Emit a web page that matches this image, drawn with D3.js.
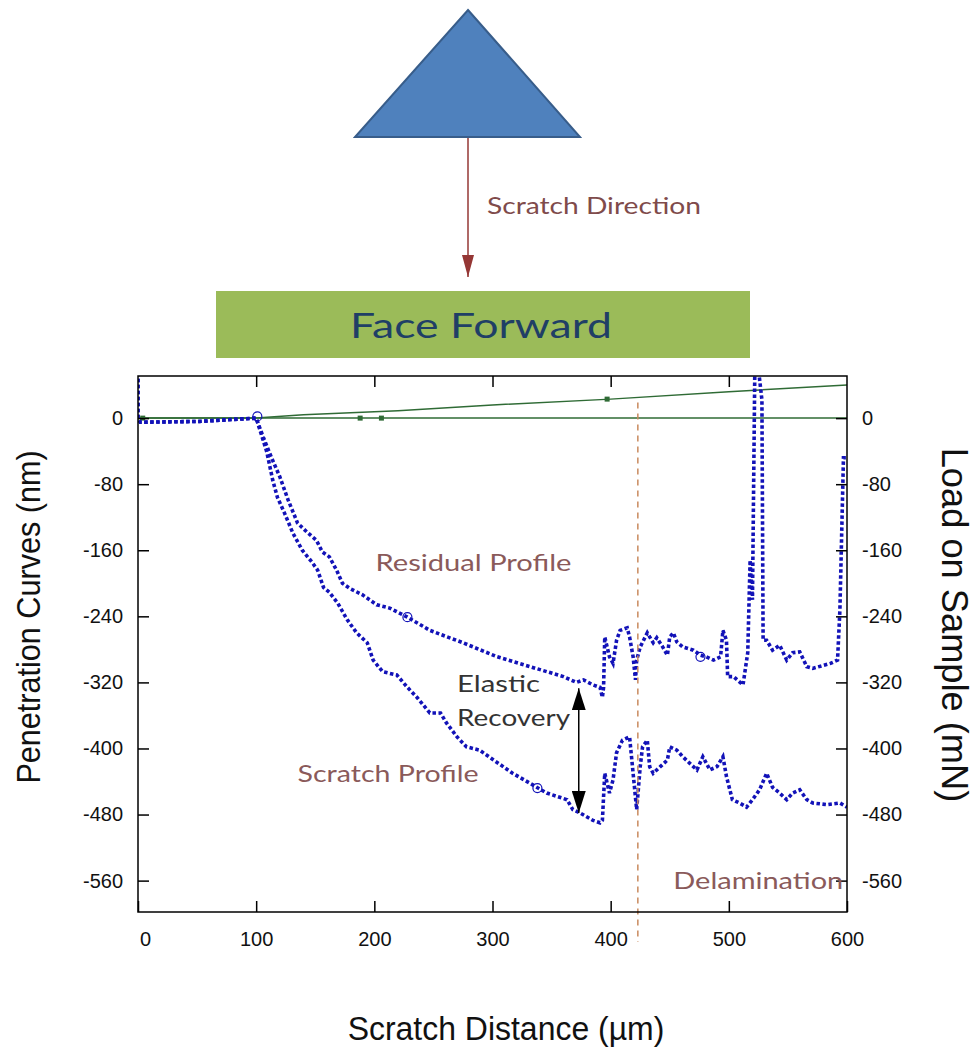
<!DOCTYPE html>
<html>
<head>
<meta charset="utf-8">
<script src="https://cdn.jsdelivr.net/npm/d3@7"></script>
<style>
  body { margin: 0; background: #fff; }
  svg { display: block; }
</style>
</head>
<body>
<div id="chart"></div>
<script>
// Scratch profile (deeper curve), distance in um, depth in nm
const scratchDist = [0, 0, 2, 52, 100, 104, 109, 114, 118, 124, 131, 139, 147, 152, 157, 162, 169, 177, 185, 194,
  199, 207, 219, 228, 236, 247, 256, 261, 270, 278, 289, 317, 346, 363, 368, 374, 385, 391, 393, 395,
  399, 402, 405, 410, 416, 419, 422, 425, 427, 431, 433, 436, 442, 448, 450, 456, 461, 467, 473, 478,
  484, 490, 495, 498, 503, 509, 515, 520, 526, 532, 537, 543, 549, 554, 560, 566, 571, 583, 594, 600];
const scratchDepth = [55, 0, -5, -4, 0, -18, -41, -75, -96, -115, -139, -160, -174, -184, -205, -211, -224, -244, -260, -272,
  -293, -307, -311, -326, -338, -357, -357, -369, -386, -398, -402, -430, -454, -462, -474, -478, -487, -490, -487, -430,
  -454, -438, -405, -390, -386, -430, -474, -422, -398, -390, -422, -430, -422, -414, -398, -402, -410, -418, -426, -410,
  -426, -422, -410, -434, -462, -466, -471, -462, -450, -430, -447, -454, -462, -454, -450, -462, -466, -468, -466, -471];

// Residual profile (after elastic recovery)
const residualDist = [0, 0, 2, 52, 100, 106, 113, 120, 127, 135, 143, 151, 156, 162, 168, 173, 179, 190, 202, 213,
  228, 247, 275, 304, 332, 360, 371, 377, 385, 391, 393, 394, 395, 399, 402, 405, 408, 414, 416, 419,
  421, 422, 425, 431, 436, 439, 444, 448, 450, 453, 456, 461, 470, 476, 481, 487, 493, 495, 498, 499,
  504, 512, 516, 518, 520, 522, 525, 528, 529, 532, 537, 543, 549, 554, 560, 566, 571, 586, 592, 594, 597, 600];
const residualDepth = [55, 0, -5, -4, 0, -23, -48, -71, -99, -127, -138, -148, -162, -168, -184, -200, -206, -214, -226, -230,
  -241, -257, -272, -289, -301, -313, -320, -317, -323, -326, -338, -326, -265, -289, -297, -269, -257, -254, -265, -289,
  -317, -293, -277, -260, -272, -266, -277, -287, -265, -260, -271, -277, -281, -287, -289, -293, -289, -257, -269, -313,
  -313, -323, -284, -172, -220, 60, 60, 22, -269, -269, -281, -275, -293, -284, -283, -301, -303, -297, -293, -232, -48, -48];

// Load on sample (green), mN
const loadDist = [0, 100, 140, 220, 300, 400, 500, 600];
const loadValue = [0, 0, 4, 9, 16, 23, 32, 40];
const zeroDist = [0, 600];
const zeroValue = [0, 0];

// markers
const circleDist = [101, 228, 338, 476];
const circleDepth = [2, -241, -448, -289];
const squareDist = [4, 188, 206, 397];
const squareValue = [0, 0, 0, 23];

const xTicks = [0, 100, 200, 300, 400, 500, 600];
const yTicks = [0, -80, -160, -240, -320, -400, -480, -560];

const delaminationAt = 423;
const recoveryAt = 373, recoveryTop = -327, recoveryBottom = -478;

const W = 977, H = 1051;
const margin = { top: 376, right: 130, bottom: 139, left: 138 };
const width = W - margin.left - margin.right;
const height = H - margin.top - margin.bottom;

const svg = d3.select("#chart").append("svg")
  .attr("width", W)
  .attr("height", H);

const noteFont = "Lato, 'Open Sans', sans-serif";

// ---- schematic on top ----
const diagram = svg.append("g");
diagram.append("path")
  .attr("d", d3.line()([[468, 10], [580, 137], [355, 137]]) + "Z")
  .attr("fill", "#4f81bd")
  .attr("stroke", "#385d8a")
  .attr("stroke-width", 2);

const defs = svg.append("defs");
defs.append("marker")
  .attr("id", "redHead")
  .attr("viewBox", "0 0 22 12")
  .attr("refX", 22).attr("refY", 6)
  .attr("markerWidth", 22).attr("markerHeight", 12)
  .attr("markerUnits", "userSpaceOnUse")
  .attr("orient", "auto")
  .append("path").attr("d", "M0,0L22,6L0,12Z").attr("fill", "#953735");

diagram.append("line")
  .attr("x1", 468).attr("y1", 138)
  .attr("x2", 468).attr("y2", 277)
  .attr("stroke", "#953735")
  .attr("stroke-width", 1.5)
  .attr("marker-end", "url(#redHead)");

diagram.append("text")
  .attr("x", 487).attr("y", 214)
  .attr("font-family", noteFont)
  .attr("font-size", 23)
  .attr("textLength", 214)
  .attr("lengthAdjust", "spacingAndGlyphs")
  .attr("fill", "#7f4b4b")
  .text("Scratch Direction");

diagram.append("rect")
  .attr("x", 216).attr("y", 291)
  .attr("width", 534).attr("height", 67)
  .attr("fill", "#9bbb59");

diagram.append("text")
  .attr("x", 350).attr("y", 338)
  .attr("font-family", noteFont)
  .attr("font-size", 35)
  .attr("textLength", 262)
  .attr("lengthAdjust", "spacingAndGlyphs")
  .attr("fill", "#1f3f66")
  .text("Face Forward");

// ---- chart ----
const g = svg.append("g")
  .attr("transform", `translate(${margin.left},${margin.top})`);

const x = d3.scaleLinear().domain([0, 600]).range([0, width]);
const y = d3.scaleLinear().domain([-598, 51]).range([height, 0]);

defs.append("clipPath").attr("id", "plotClip")
  .append("rect").attr("width", width).attr("height", height);

const plot = g.append("g").attr("clip-path", "url(#plotClip)");

const line = d3.line().x(d => x(d[0])).y(d => y(d[1]));

// green lines
plot.append("path")
  .attr("d", line(d3.zip(zeroDist, zeroValue)))
  .attr("fill", "none")
  .attr("stroke", "#2f6b35")
  .attr("stroke-width", 1.5);

plot.append("path")
  .attr("d", line(d3.zip(loadDist, loadValue)))
  .attr("fill", "none")
  .attr("stroke", "#2f6b35")
  .attr("stroke-width", 1.5);

plot.selectAll(".sq")
  .data(d3.zip(squareDist, squareValue))
  .enter().append("rect")
  .attr("x", d => x(d[0]) - 2.5)
  .attr("y", d => y(d[1]) - 2.5)
  .attr("width", 5).attr("height", 5)
  .attr("fill", "#2f6b35");

// blue dotted profiles
[[scratchDist, scratchDepth], [residualDist, residualDepth]].forEach(s => {
  plot.append("path")
    .attr("d", line(d3.zip(s[0], s[1])))
    .attr("fill", "none")
    .attr("stroke", "#1212b8")
    .attr("stroke-width", 3.6)
    .attr("stroke-dasharray", "3.5,2.5");
});

plot.selectAll(".circ")
  .data(d3.zip(circleDist, circleDepth))
  .enter().append("circle")
  .attr("cx", d => x(d[0]))
  .attr("cy", d => y(d[1]))
  .attr("r", 4.5)
  .attr("fill", "none")
  .attr("stroke", "#1212b8")
  .attr("stroke-width", 1.2);

// delamination marker
g.append("line")
  .attr("x1", x(delaminationAt)).attr("x2", x(delaminationAt))
  .attr("y1", y(19)).attr("y2", height + 30)
  .attr("stroke", "#c98a5e")
  .attr("stroke-width", 1.5)
  .attr("stroke-dasharray", "6,5");

// elastic recovery arrow
defs.append("marker")
  .attr("id", "blackHead")
  .attr("viewBox", "0 0 22 14")
  .attr("refX", 22).attr("refY", 7)
  .attr("markerWidth", 22).attr("markerHeight", 14)
  .attr("markerUnits", "userSpaceOnUse")
  .attr("orient", "auto-start-reverse")
  .append("path").attr("d", "M0,0L22,7L0,14Z").attr("fill", "#000");

g.append("line")
  .attr("x1", x(recoveryAt)).attr("x2", x(recoveryAt))
  .attr("y1", y(recoveryTop)).attr("y2", y(recoveryBottom))
  .attr("stroke", "#000")
  .attr("stroke-width", 1.5)
  .attr("marker-start", "url(#blackHead)")
  .attr("marker-end", "url(#blackHead)");

// frame
g.append("rect")
  .attr("width", width).attr("height", height)
  .attr("fill", "none")
  .attr("stroke", "#000")
  .attr("stroke-width", 1.5);

// axes with inward ticks
const tickFont = "'Liberation Sans', Arial, sans-serif";
const plain = d => String(d);
const xAxis = g.append("g")
  .attr("transform", `translate(0,${height})`)
  .call(d3.axisBottom(x).tickValues(xTicks).tickFormat(plain).tickSizeInner(-11).tickSizeOuter(0).tickPadding(20));
const xTop = g.append("g")
  .call(d3.axisTop(x).tickValues(xTicks.slice(1, -1)).tickSizeInner(-11).tickSizeOuter(0).tickFormat(""));
const yLeft = g.append("g")
  .call(d3.axisLeft(y).tickValues(yTicks).tickFormat(plain).tickSizeInner(-11).tickSizeOuter(0).tickPadding(15));
const yRight = g.append("g")
  .attr("transform", `translate(${width},0)`)
  .call(d3.axisRight(y).tickValues(yTicks).tickFormat(plain).tickSizeInner(-11).tickSizeOuter(0).tickPadding(15));

[xAxis, xTop, yLeft, yRight].forEach(a => {
  a.select(".domain").remove();
  a.selectAll("line").attr("stroke", "#000").attr("stroke-width", 1.5);
  a.selectAll("text")
    .attr("font-family", tickFont)
    .attr("font-size", 20)
    .attr("fill", "#111");
});
xAxis.selectAll(".tick text").filter(d => d === 0).attr("dx", 7);

// annotations
const notes = [
  { text: "Residual Profile", dx: 201, dy: -185, len: 196, color: "#8a5a5a" },
  { text: "Scratch Profile", dx: 135, dy: -440, len: 181, color: "#8a5a5a" },
  { text: "Elastic", dx: 270, dy: -332, len: 83, color: "#333" },
  { text: "Recovery", dx: 270, dy: -373, len: 113, color: "#333" },
  { text: "Delamination", dx: 453, dy: -570, len: 170, color: "#8a5a5a" }
];
g.selectAll(".note")
  .data(notes)
  .enter().append("text")
  .attr("x", d => x(d.dx))
  .attr("y", d => y(d.dy))
  .attr("font-family", noteFont)
  .attr("font-size", 24)
  .attr("textLength", d => d.len)
  .attr("lengthAdjust", "spacingAndGlyphs")
  .attr("fill", d => d.color)
  .text(d => d.text);

// axis titles
const titleFont = "'Liberation Sans', Arial, sans-serif";
svg.append("text")
  .attr("transform", "translate(28,617) rotate(-90) scale(0.9,1)")
  .attr("text-anchor", "middle")
  .attr("dominant-baseline", "central")
  .attr("font-family", titleFont)
  .attr("font-size", 34)
  .attr("fill", "#111")
  .text("Penetration Curves (nm)");

svg.append("text")
  .attr("transform", "translate(955,625) rotate(90) scale(0.98,1)")
  .attr("text-anchor", "middle")
  .attr("dominant-baseline", "central")
  .attr("font-family", titleFont)
  .attr("font-size", 37)
  .attr("fill", "#111")
  .text("Load on Sample (mN)");

svg.append("text")
  .attr("transform", "translate(506,1028) scale(0.94,1)")
  .attr("text-anchor", "middle")
  .attr("dominant-baseline", "central")
  .attr("font-family", titleFont)
  .attr("font-size", 34)
  .attr("fill", "#111")
  .text("Scratch Distance (µm)");
</script>
</body>
</html>
